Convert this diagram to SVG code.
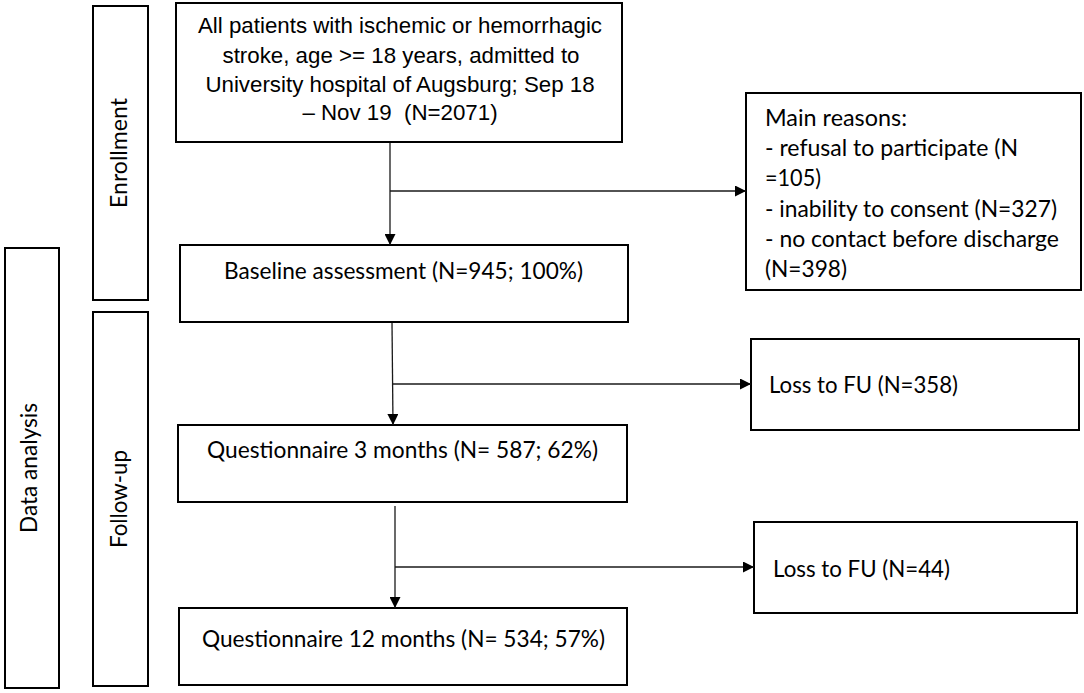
<svg xmlns="http://www.w3.org/2000/svg" width="1084" height="693" viewBox="0 0 1084 693">
<defs>
<style>
.box{fill:#fff;stroke:#000;stroke-width:2}
.c{font-family:Lato,"Noto Sans",sans-serif;font-size:22.5px;fill:#000}
.a{font-family:"Liberation Sans",Arial,sans-serif;font-size:22.3px;fill:#000;text-anchor:middle}
.v{font-family:Lato,"Noto Sans",sans-serif;font-size:22.5px;fill:#000;text-anchor:middle}
.ln{stroke:#1a1a1a;stroke-width:1.3;fill:none}
</style>
<marker id="ah" viewBox="0 0 11 11" refX="11" refY="5.5" markerWidth="11" markerHeight="11" markerUnits="userSpaceOnUse" orient="auto">
<path d="M0,0 L11,5.5 L0,11 Z" fill="#000"/>
</marker>
</defs>
<rect width="1084" height="693" fill="#fff"/>

<g id="label-data-analysis">
<rect class="box" x="5" y="248" width="54" height="440"/>
<text class="v" transform="translate(37,468) rotate(-90)" textLength="130" lengthAdjust="spacingAndGlyphs">Data analysis</text>
</g>
<g id="label-enrollment">
<rect class="box" x="93" y="6" width="55" height="294"/>
<text class="v" transform="translate(127,153) rotate(-90)" textLength="110" lengthAdjust="spacingAndGlyphs">Enrollment</text>
</g>
<g id="label-follow-up">
<rect class="box" x="93" y="312" width="55" height="374"/>
<text class="v" transform="translate(127,499) rotate(-90)" textLength="98" lengthAdjust="spacingAndGlyphs">Follow-up</text>
</g>

<g id="node-all-patients">
<rect class="box" x="176" y="3" width="446" height="139"/>
<text class="a" x="400" y="33">All patients with ischemic or hemorrhagic</text>
<text class="a" x="401" y="63">stroke, age &gt;= 18 years, admitted to</text>
<text class="a" x="400" y="92">University hospital of Augsburg; Sep 18</text>
<text class="a" x="400" y="120" xml:space="preserve">– Nov 19  (N=2071)</text>
</g>

<g id="node-main-reasons">
<rect class="box" x="746" y="93" width="335" height="197"/>
<text class="c" x="765" y="126" textLength="142" lengthAdjust="spacingAndGlyphs">Main reasons:</text>
<text class="c" x="765" y="156" textLength="253" lengthAdjust="spacingAndGlyphs">- refusal to participate (N</text>
<text class="c" x="765" y="186" textLength="56" lengthAdjust="spacingAndGlyphs">=105)</text>
<text class="c" x="765" y="217" textLength="292" lengthAdjust="spacingAndGlyphs">- inability to consent (N=327)</text>
<text class="c" x="765" y="247" textLength="294" lengthAdjust="spacingAndGlyphs">- no contact before discharge</text>
<text class="c" x="765" y="277" textLength="82" lengthAdjust="spacingAndGlyphs">(N=398)</text>
</g>

<g id="node-baseline">
<rect class="box" x="180" y="245" width="448" height="77"/>
<text class="c" x="224" y="279" textLength="359" lengthAdjust="spacingAndGlyphs">Baseline assessment (N=945; 100%)</text>
</g>

<g id="node-loss-358">
<rect class="box" x="751" y="339" width="328" height="91"/>
<text class="c" x="769" y="393" textLength="189" lengthAdjust="spacingAndGlyphs">Loss to FU (N=358)</text>
</g>

<g id="node-q3">
<rect class="box" x="178" y="425" width="449" height="77"/>
<text class="c" x="207" y="458" textLength="391" lengthAdjust="spacingAndGlyphs">Questionnaire 3 months (N= 587; 62%)</text>
</g>

<g id="node-loss-44">
<rect class="box" x="754" y="522" width="323" height="91"/>
<text class="c" x="773" y="577" textLength="177" lengthAdjust="spacingAndGlyphs">Loss to FU (N=44)</text>
</g>

<g id="node-q12">
<rect class="box" x="179" y="608" width="448" height="77"/>
<text class="c" x="202" y="647" textLength="403" lengthAdjust="spacingAndGlyphs">Questionnaire 12 months (N= 534; 57%)</text>
</g>

<g id="connectors">
<line class="ln" x1="390" y1="143" x2="390" y2="245" marker-end="url(#ah)"/>
<line class="ln" x1="390" y1="191" x2="746" y2="191" marker-end="url(#ah)"/>
<line class="ln" x1="392" y1="323" x2="393" y2="425" marker-end="url(#ah)"/>
<line class="ln" x1="392" y1="384" x2="751" y2="384" marker-end="url(#ah)"/>
<line class="ln" x1="395" y1="506" x2="395" y2="608" marker-end="url(#ah)"/>
<line class="ln" x1="395" y1="567" x2="754" y2="567" marker-end="url(#ah)"/>
</g>
</svg>
